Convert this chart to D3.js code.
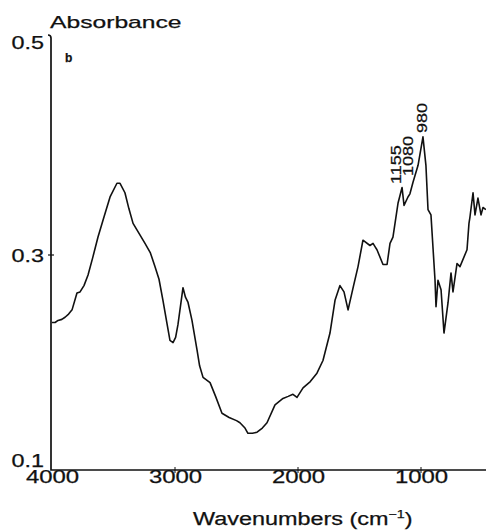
<!DOCTYPE html>
<html>
<head>
<meta charset="utf-8">
<script src="https://cdn.jsdelivr.net/npm/d3@7"></script>
<style>
  body { margin: 0; background: #fff; }
  text { font-family: "Liberation Sans", Arial, sans-serif; fill: #111; stroke: #111; stroke-width: 0.25px; }
</style>
</head>
<body>
<div id="chart"></div>
<script>
var svgWidth = 486;
var svgHeight = 532;

// IR spectrum: wavenumber (cm-1) and absorbance
var wavenumbers = [4000, 3975, 3951, 3920, 3894, 3865, 3837, 3797, 3772, 3740, 3707, 3670, 3626, 3575, 3528, 3472,
  3447, 3407, 3375, 3341, 3290, 3244, 3200, 3163, 3130, 3098, 3065, 3041, 3016, 2995, 2976, 2935,
  2915, 2894, 2862, 2821, 2800, 2772, 2715, 2670, 2618, 2560, 2500, 2472, 2431, 2407, 2370, 2333,
  2290, 2252, 2187, 2122, 2080, 2041, 2008, 1959, 1900, 1846, 1797, 1740, 1699,
  1659, 1626, 1593, 1550, 1512, 1472, 1415, 1390, 1374, 1358, 1309,
  1276, 1252, 1228, 1187, 1154, 1138, 1106, 1090, 1065, 1024, 984,
  960, 943, 919, 886, 878, 862, 837, 813, 780, 756, 740,
  707, 683, 626, 610, 602, 577, 561, 537, 512, 496, 472];
var absorbance = [0.236, 0.236, 0.238, 0.239, 0.241, 0.244, 0.248, 0.264, 0.265, 0.271, 0.281, 0.297, 0.317, 0.337, 0.355, 0.368,
  0.368, 0.359, 0.344, 0.330, 0.320, 0.311, 0.302, 0.289, 0.277, 0.257, 0.235, 0.219, 0.217, 0.222, 0.234, 0.269,
  0.260, 0.255, 0.238, 0.210, 0.195, 0.184, 0.179, 0.166, 0.150, 0.146, 0.143, 0.141, 0.136, 0.131, 0.131, 0.132,
  0.136, 0.141, 0.158, 0.164, 0.166, 0.168, 0.165, 0.174, 0.180, 0.188, 0.200, 0.226, 0.257,
  0.271, 0.265, 0.248, 0.270, 0.289, 0.314, 0.309, 0.311, 0.308, 0.305, 0.291,
  0.291, 0.311, 0.317, 0.349, 0.364, 0.347, 0.355, 0.358, 0.369, 0.385, 0.412,
  0.385, 0.343, 0.338, 0.276, 0.251, 0.276, 0.267, 0.226, 0.255, 0.283, 0.265,
  0.292, 0.289, 0.305, 0.330, 0.336, 0.359, 0.338, 0.354, 0.338, 0.345, 0.343];

var xTicks = [4000, 3000, 2000, 1000];
var yTicks = [0.1, 0.3, 0.5];
var peakLabels = ["1155", "1080", "980"];

var data = wavenumbers.map(function(w, i) { return {w: w, a: absorbance[i]}; });

var svg = d3.select("#chart").append("svg")
  .attr("width", svgWidth)
  .attr("height", svgHeight);

var x = d3.scaleLinear().domain([4000, 1000]).range([52, 421]);
var y = d3.scaleLinear().domain([0.1, 0.5]).range([466, 44]);

// stretch text horizontally like the old typewriter lettering
function stretch(sel, k) {
  sel.each(function() {
    var len = this.getComputedTextLength();
    d3.select(this).attr("textLength", len * k).attr("lengthAdjust", "spacingAndGlyphs");
  });
}

// axes
svg.append("path")
  .attr("d", "M48,35 Q51,35 51,38 L51,470 L486,470")
  .attr("fill", "none")
  .attr("stroke", "#111")
  .attr("stroke-width", 1.7);

var xAxis = d3.axisBottom(x).tickValues(xTicks).tickSize(0).tickFormat(d3.format("d"));
var gx = svg.append("g").attr("transform", "translate(0,470)").call(xAxis);
gx.select(".domain").remove();
gx.selectAll("text")
  .attr("y", 13)
  .attr("dy", 0)
  .style("font-size", "18px")
  .style("font-family", "'Liberation Sans', Arial, sans-serif")
  .call(stretch, 1.33);

svg.selectAll(".xtick").data(xTicks.slice(1)).enter().append("line")
  .attr("x1", d => x(d)).attr("x2", d => x(d))
  .attr("y1", 467).attr("y2", 473)
  .attr("stroke", "#111").attr("stroke-width", 1);

var yAxis = d3.axisLeft(y).tickValues(yTicks).tickSize(0).tickFormat(d3.format(".1f"));
var gy = svg.append("g").attr("transform", "translate(51,0)").call(yAxis);
gy.select(".domain").remove();
gy.selectAll("text")
  .attr("x", -7)
  .attr("y", d => d === 0.1 ? -6 : (d === 0.5 ? -2 : 0))
  .attr("dy", "0.35em")
  .style("font-size", "18px")
  .style("font-family", "'Liberation Sans', Arial, sans-serif")
  .call(stretch, 1.3);

svg.append("line")
  .attr("x1", 48).attr("x2", 54)
  .attr("y1", y(0.3)).attr("y2", y(0.3))
  .attr("stroke", "#111").attr("stroke-width", 1.2);

// spectrum
var line = d3.line()
  .x(d => x(d.w))
  .y(d => y(d.a));

svg.append("path")
  .datum(data)
  .attr("d", line)
  .attr("fill", "none")
  .attr("stroke", "#111")
  .attr("stroke-width", 1.6)
  .attr("stroke-linejoin", "round");

// titles
svg.append("text")
  .attr("x", 50).attr("y", 28)
  .style("font-size", "17px")
  .text("Absorbance")
  .call(stretch, 1.45);

svg.append("text")
  .attr("x", 65).attr("y", 62)
  .style("font-size", "12px")
  .style("font-weight", "bold")
  .text("b");

var xLabel = svg.append("text")
  .attr("x", 193).attr("y", 525)
  .style("font-size", "18px");
xLabel.append("tspan").text("Wavenumbers (cm");
xLabel.append("tspan").attr("dy", -7).style("font-size", "11px").text("\u22121");
xLabel.append("tspan").attr("dy", 7).text(")");
xLabel.call(stretch, 1.3);

// peak labels, rotated
var peakY = [184, 176, 133];
var peakX = [401, 413, 427];
svg.selectAll(".peak").data(peakLabels).enter().append("text")
  .attr("transform", (d, i) => `translate(${peakX[i]},${peakY[i]}) rotate(-90)`)
  .style("font-size", "15px")
  .text(d => d)
  .call(stretch, 1.2);
</script>
</body>
</html>
